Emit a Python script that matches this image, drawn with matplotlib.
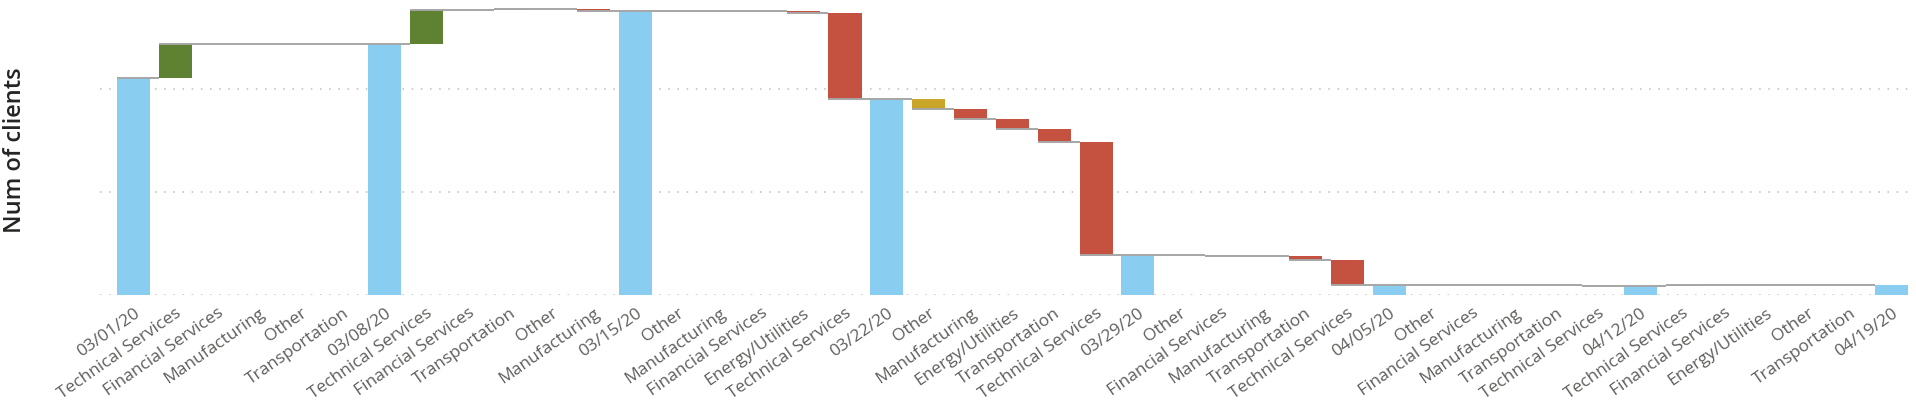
import matplotlib.pyplot as plt
import numpy as np

# Категории по оси X (даты - итоговые столбцы, остальные - изменения)
labels = [
    "03/01/20", "Technical Services", "Financial Services", "Manufacturing", "Other", "Transportation",
    "03/08/20", "Technical Services", "Financial Services", "Transportation", "Other", "Manufacturing",
    "03/15/20", "Other", "Manufacturing", "Financial Services", "Energy/Utilities", "Technical Services",
    "03/22/20", "Other", "Manufacturing", "Energy/Utilities", "Transportation", "Technical Services",
    "03/29/20", "Other", "Financial Services", "Manufacturing", "Transportation", "Technical Services",
    "04/05/20", "Other", "Financial Services", "Manufacturing", "Transportation", "Technical Services",
    "04/12/20", "Technical Services", "Financial Services", "Energy/Utilities", "Other", "Transportation",
    "04/19/20",
]

# Для дат - итог, для остальных - изменение
values = [
    210.7, 32.3, 0.2, 0.2, 0.1, 0.1,
    243.6, 32.6, 0.4, 0.3, 0.2, -1.6,
    275.5, -0.1, -0.2, -0.3, -1.2, -83.3,
    190.4, -9.7, -9.7, -10.3, -12.0, -109.7,
    39.0, -0.2, -0.3, -0.4, -3.5, -24.6,
    10.0, -0.1, -0.2, -0.1, -0.1, -0.2,
    9.3, 0.3, 0.2, 0.1, 0.1, 0.1,
    10.1,
]

# Тип столбца: total / change / other (группа "Other" в разбивке)
kinds = ["total" if l[0].isdigit() else "change" for l in labels]
kinds[19] = "other"

BLUE = "#89CEF0"
GREEN = "#5E8232"
RED = "#C55240"
YELLOW = "#C9A52A"

x = np.arange(len(labels))
bottoms = []
heights = []
colors = []
ends = []
running = 0.0
for v, k in zip(values, kinds):
    if k == "total":
        running = v
        bottoms.append(0.0)
        heights.append(v)
        colors.append(BLUE)
    else:
        bottoms.append(running)
        heights.append(v)
        running += v
        colors.append(YELLOW if k == "other" else (GREEN if v >= 0 else RED))
    ends.append(running)

fig = plt.figure(figsize=(19.16, 4.09), dpi=100)
ax = fig.add_axes([100 / 1916, 1 - 295.3 / 409, 1811 / 1916, 295.3 / 409])

width = 0.79
for gy in [0, 100, 200]:
    ax.axhline(gy, color="#BDBDBD", linewidth=1.1, linestyle=(0, (1, 5)), zorder=0)

ax.bar(x, heights, bottom=bottoms, width=width, color=colors, zorder=2)

# Соединительные линии (через верх текущего столбца до начала следующего)
for i in range(len(x) - 1):
    ax.hlines(ends[i], x[i] - width / 2, x[i + 1] - width / 2, color="#A6A6A6", linewidth=1.4, zorder=3)

ax.set_xlim(-0.8, 42.47)
ax.set_ylim(0, 286)
ax.set_xticks(x)
ax.set_xticklabels(labels, rotation=35, ha="right", rotation_mode="anchor",
                   fontsize=12.5, color="#605E5C", family=["Open Sans", "DejaVu Sans"])
ax.tick_params(axis="x", length=0, pad=7)
ax.set_yticks([])
for s in ax.spines.values():
    s.set_visible(False)

fig.text(15 / 1916, 1 - 150 / 409, "Num of clients", rotation=90, ha="center", va="center",
         fontsize=17, color="#252423", fontweight="semibold", family=["Open Sans", "DejaVu Sans"])

fig.savefig("out.png", dpi=100)
